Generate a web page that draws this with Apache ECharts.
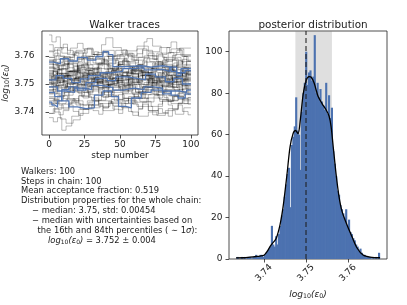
<!DOCTYPE html>
<html><head><meta charset="utf-8">
<script src="https://cdn.jsdelivr.net/npm/echarts@6/dist/echarts.min.js"></script>
<style>html,body{margin:0;padding:0;background:#fff}#c{width:407px;height:305px}</style>
</head><body><div id="c"></div>
<script>
// ---------- DATA ----------
const traceXTicks = [0, 25, 50, 75, 100];
const traceYTicks = [3.74, 3.75, 3.76];
const histXTicks = [3.74, 3.75, 3.76];
const histYTicks = [0, 20, 40, 60, 80, 100];

// gray walker traces: [step, value] change points
const grayTraces = [
[[0,3.7520],[4,3.7535],[9,3.7510],[15,3.7548],[22,3.7530],[30,3.7505],[38,3.7522],[47,3.7540],[55,3.7515],[63,3.7498],[71,3.7525],[80,3.7550],[88,3.7530],[95,3.7512],[100,3.7512]],
[[0,3.7560],[3,3.7588],[8,3.7570],[14,3.7545],[20,3.7565],[27,3.7590],[33,3.7572],[41,3.7555],[49,3.7580],[57,3.7560],[66,3.7540],[74,3.7568],[82,3.7585],[90,3.7560],[97,3.7545],[100,3.7545]],
[[0,3.7480],[5,3.7465],[11,3.7490],[18,3.7472],[24,3.7500],[31,3.7485],[39,3.7462],[46,3.7478],[54,3.7495],[61,3.7470],[69,3.7488],[77,3.7475],[85,3.7458],[92,3.7482],[100,3.7482]],
[[0,3.7675],[2,3.7650],[5,3.7668],[8,3.7630],[13,3.7605],[19,3.7620],[26,3.7598],[34,3.7612],[42,3.7590],[50,3.7605],[58,3.7585],[67,3.7600],[76,3.7578],[84,3.7595],[93,3.7580],[100,3.7580]],
[[0,3.7380],[3,3.7365],[6,3.7380],[9,3.7335],[12,3.7350],[16,3.7385],[21,3.7410],[28,3.7425],[35,3.7440],[44,3.7430],[52,3.7448],[60,3.7435],[69,3.7450],[78,3.7438],[87,3.7455],[95,3.7445],[100,3.7445]],
[[0,3.7500],[6,3.7525],[12,3.7540],[19,3.7515],[25,3.7495],[32,3.7520],[40,3.7545],[48,3.7528],[56,3.7505],[64,3.7530],[72,3.7515],[79,3.7495],[86,3.7520],[94,3.7538],[100,3.7538]],
[[0,3.7455],[4,3.7440],[10,3.7460],[17,3.7478],[23,3.7455],[30,3.7442],[37,3.7470],[45,3.7490],[52,3.7465],[60,3.7450],[68,3.7475],[76,3.7460],[83,3.7440],[91,3.7468],[100,3.7468]],
[[0,3.7580],[5,3.7600],[11,3.7585],[18,3.7610],[25,3.7625],[31,3.7605],[37,3.7640],[40,3.7665],[45,3.7630],[51,3.7610],[59,3.7595],[66,3.7620],[73,3.7600],[81,3.7588],[89,3.7605],[100,3.7605]],
[[0,3.7535],[3,3.7550],[9,3.7530],[16,3.7512],[22,3.7535],[29,3.7555],[36,3.7538],[43,3.7518],[51,3.7530],[58,3.7552],[65,3.7540],[73,3.7525],[81,3.7545],[88,3.7560],[96,3.7540],[100,3.7540]],
[[0,3.7490],[7,3.7505],[13,3.7485],[20,3.7470],[27,3.7492],[35,3.7508],[42,3.7488],[50,3.7475],[57,3.7500],[65,3.7515],[72,3.7495],[80,3.7480],[87,3.7498],[94,3.7510],[100,3.7510]],
[[0,3.7595],[4,3.7575],[10,3.7595],[17,3.7615],[24,3.7590],[31,3.7575],[39,3.7598],[47,3.7620],[55,3.7600],[62,3.7625],[67,3.7650],[69,3.7662],[73,3.7635],[79,3.7610],[86,3.7625],[93,3.7600],[100,3.7600]],
[[0,3.7450],[5,3.7430],[12,3.7445],[19,3.7425],[27,3.7440],[35,3.7420],[43,3.7435],[51,3.7415],[58,3.7400],[63,3.7385],[70,3.7400],[76,3.7388],[82,3.7405],[89,3.7392],[95,3.7415],[100,3.7415]],
[[0,3.7545],[6,3.7525],[13,3.7545],[21,3.7560],[28,3.7540],[36,3.7525],[44,3.7548],[52,3.7565],[60,3.7545],[68,3.7528],[75,3.7550],[83,3.7535],[90,3.7518],[97,3.7535],[100,3.7535]],
[[0,3.7510],[3,3.7492],[9,3.7470],[15,3.7490],[23,3.7505],[30,3.7480],[38,3.7498],[46,3.7512],[53,3.7490],[61,3.7472],[68,3.7495],[76,3.7508],[84,3.7488],[91,3.7500],[100,3.7500]],
[[0,3.7570],[7,3.7555],[14,3.7575],[21,3.7595],[29,3.7570],[37,3.7585],[45,3.7600],[53,3.7580],[61,3.7565],[69,3.7590],[77,3.7605],[83,3.7630],[86,3.7650],[90,3.7625],[95,3.7600],[100,3.7600]],
[[0,3.7420],[4,3.7400],[8,3.7375],[12,3.7360],[17,3.7372],[22,3.7395],[28,3.7415],[36,3.7430],[44,3.7445],[53,3.7430],[61,3.7448],[70,3.7462],[78,3.7445],[86,3.7430],[94,3.7450],[100,3.7450]],
[[0,3.7525],[5,3.7510],[11,3.7528],[18,3.7545],[25,3.7522],[33,3.7505],[41,3.7520],[48,3.7505],[56,3.7525],[63,3.7540],[71,3.7520],[78,3.7505],[86,3.7525],[93,3.7548],[100,3.7548]],
[[0,3.7465],[6,3.7488],[13,3.7505],[20,3.7485],[28,3.7462],[35,3.7485],[43,3.7502],[50,3.7485],[58,3.7468],[66,3.7490],[74,3.7472],[82,3.7490],[90,3.7508],[96,3.7485],[100,3.7485]],
[[0,3.7615],[4,3.7630],[9,3.7610],[15,3.7628],[20,3.7645],[24,3.7625],[30,3.7605],[38,3.7620],[46,3.7600],[54,3.7618],[62,3.7635],[70,3.7615],[78,3.7630],[85,3.7612],[92,3.7628],[100,3.7628]],
[[0,3.7555],[5,3.7538],[12,3.7518],[19,3.7540],[26,3.7555],[34,3.7535],[41,3.7552],[49,3.7570],[57,3.7548],[65,3.7530],[72,3.7555],[80,3.7570],[87,3.7550],[94,3.7532],[100,3.7532]],
[[0,3.7440],[6,3.7458],[13,3.7440],[21,3.7458],[29,3.7475],[37,3.7455],[44,3.7470],[52,3.7450],[60,3.7465],[67,3.7480],[74,3.7462],[81,3.7478],[89,3.7458],[96,3.7472],[100,3.7472]],
[[0,3.7500],[4,3.7520],[11,3.7500],[18,3.7520],[26,3.7538],[33,3.7515],[40,3.7498],[48,3.7518],[55,3.7538],[63,3.7515],[70,3.7500],[78,3.7520],[85,3.7505],[93,3.7525],[100,3.7525]],
[[0,3.7430],[6,3.7415],[14,3.7432],[22,3.7410],[30,3.7425],[38,3.7405],[46,3.7420],[54,3.7440],[62,3.7420],[70,3.7405],[77,3.7395],[84,3.7412],[91,3.7430],[100,3.7430]],
[[0,3.7585],[5,3.7565],[12,3.7545],[20,3.7568],[28,3.7552],[35,3.7570],[43,3.7555],[51,3.7540],[59,3.7562],[67,3.7578],[75,3.7558],[82,3.7542],[90,3.7565],[97,3.7580],[100,3.7580]],
[[0,3.7515],[7,3.7530],[14,3.7515],[21,3.7498],[28,3.7518],[36,3.7535],[43,3.7512],[51,3.7495],[59,3.7515],[66,3.7532],[74,3.7512],[82,3.7530],[89,3.7515],[96,3.7495],[100,3.7495]],
[[0,3.7640],[3,3.7620],[8,3.7598],[15,3.7580],[23,3.7600],[31,3.7588],[39,3.7572],[47,3.7590],[55,3.7575],[63,3.7595],[71,3.7580],[79,3.7565],[87,3.7585],[94,3.7570],[100,3.7570]],
[[0,3.7475],[5,3.7495],[12,3.7478],[19,3.7495],[26,3.7515],[34,3.7495],[42,3.7478],[49,3.7498],[57,3.7482],[64,3.7462],[72,3.7482],[80,3.7500],[88,3.7480],[95,3.7462],[100,3.7462]],
[[0,3.7532],[6,3.7552],[13,3.7572],[20,3.7550],[27,3.7535],[35,3.7555],[42,3.7575],[50,3.7555],[58,3.7538],[65,3.7558],[73,3.7575],[81,3.7558],[88,3.7540],[95,3.7558],[100,3.7558]],
[[0,3.7395],[4,3.7410],[9,3.7428],[16,3.7440],[24,3.7425],[32,3.7442],[40,3.7458],[48,3.7440],[56,3.7455],[64,3.7438],[72,3.7420],[80,3.7440],[88,3.7455],[95,3.7440],[100,3.7440]],
[[0,3.7505],[5,3.7485],[12,3.7502],[19,3.7525],[27,3.7505],[34,3.7488],[42,3.7508],[49,3.7528],[57,3.7508],[64,3.7488],[72,3.7505],[79,3.7525],[87,3.7508],[94,3.7490],[100,3.7490]],
[[0,3.7512],[2,3.7528],[5,3.7505],[8,3.7520],[11,3.7538],[14,3.7515],[17,3.7502],[21,3.7525],[24,3.7540],[27,3.7518],[31,3.7508],[34,3.7530],[38,3.7512],[41,3.7498],[45,3.7522],[48,3.7535],[52,3.7515],[56,3.7502],[59,3.7528],[63,3.7545],[66,3.7520],[70,3.7505],[74,3.7525],[77,3.7540],[81,3.7518],[85,3.7500],[88,3.7522],[92,3.7538],[96,3.7515],[100,3.7515]],
[[0,3.7548],[3,3.7530],[6,3.7552],[9,3.7568],[13,3.7545],[16,3.7532],[20,3.7555],[23,3.7570],[27,3.7548],[30,3.7535],[34,3.7558],[37,3.7542],[41,3.7528],[44,3.7550],[48,3.7565],[51,3.7545],[55,3.7530],[58,3.7552],[62,3.7568],[65,3.7548],[69,3.7532],[72,3.7555],[76,3.7540],[79,3.7525],[83,3.7548],[86,3.7562],[90,3.7540],[94,3.7528],[97,3.7550],[100,3.7550]],
[[0,3.7488],[3,3.7472],[6,3.7495],[10,3.7510],[13,3.7490],[17,3.7475],[20,3.7498],[24,3.7482],[27,3.7468],[31,3.7492],[34,3.7508],[38,3.7488],[41,3.7472],[45,3.7495],[48,3.7512],[52,3.7490],[55,3.7475],[59,3.7498],[62,3.7482],[66,3.7465],[69,3.7488],[73,3.7505],[76,3.7485],[80,3.7470],[83,3.7492],[87,3.7510],[90,3.7488],[94,3.7472],[97,3.7495],[100,3.7495]],
[[0,3.7530],[2,3.7515],[5,3.7538],[9,3.7555],[12,3.7532],[15,3.7518],[19,3.7540],[22,3.7558],[26,3.7535],[29,3.7520],[33,3.7542],[36,3.7528],[40,3.7512],[43,3.7535],[47,3.7552],[50,3.7530],[54,3.7515],[57,3.7538],[61,3.7555],[64,3.7532],[68,3.7518],[71,3.7540],[75,3.7525],[78,3.7510],[82,3.7532],[85,3.7550],[89,3.7528],[93,3.7512],[96,3.7535],[100,3.7535]],
[[0,3.7465],[3,3.7482],[7,3.7460],[10,3.7448],[14,3.7470],[17,3.7488],[21,3.7465],[24,3.7450],[28,3.7472],[31,3.7490],[35,3.7468],[38,3.7452],[42,3.7475],[45,3.7460],[49,3.7445],[52,3.7468],[56,3.7485],[59,3.7462],[63,3.7448],[66,3.7470],[70,3.7488],[73,3.7465],[77,3.7450],[80,3.7472],[84,3.7458],[87,3.7442],[91,3.7465],[94,3.7482],[98,3.7462],[100,3.7462]],
[[0,3.7572],[3,3.7555],[6,3.7578],[10,3.7595],[13,3.7570],[17,3.7552],[20,3.7575],[24,3.7590],[27,3.7568],[31,3.7550],[34,3.7572],[38,3.7588],[41,3.7565],[45,3.7548],[48,3.7570],[52,3.7585],[55,3.7562],[59,3.7545],[62,3.7568],[66,3.7582],[69,3.7560],[73,3.7545],[76,3.7568],[80,3.7585],[83,3.7562],[87,3.7548],[90,3.7570],[94,3.7588],[97,3.7565],[100,3.7565]],
[[0,3.7505],[2,3.7490],[5,3.7512],[8,3.7498],[12,3.7482],[15,3.7505],[18,3.7520],[22,3.7500],[25,3.7485],[29,3.7508],[32,3.7522],[36,3.7502],[39,3.7488],[43,3.7510],[46,3.7495],[50,3.7480],[53,3.7502],[57,3.7518],[60,3.7498],[64,3.7482],[67,3.7505],[71,3.7520],[74,3.7500],[78,3.7485],[81,3.7508],[85,3.7492],[88,3.7478],[92,3.7500],[95,3.7518],[100,3.7518]],
[[0,3.7540],[3,3.7560],[7,3.7538],[10,3.7522],[14,3.7545],[17,3.7562],[21,3.7540],[24,3.7525],[28,3.7548],[31,3.7532],[35,3.7515],[38,3.7538],[42,3.7555],[45,3.7532],[49,3.7518],[52,3.7540],[56,3.7558],[59,3.7535],[63,3.7520],[66,3.7542],[70,3.7528],[73,3.7512],[77,3.7535],[80,3.7552],[84,3.7530],[87,3.7515],[91,3.7538],[94,3.7555],[98,3.7532],[100,3.7532]],
[[0,3.7448],[4,3.7432],[7,3.7455],[11,3.7470],[14,3.7448],[18,3.7435],[21,3.7458],[25,3.7475],[28,3.7452],[32,3.7438],[35,3.7460],[39,3.7478],[42,3.7455],[46,3.7440],[49,3.7462],[53,3.7448],[56,3.7432],[60,3.7455],[63,3.7472],[67,3.7450],[70,3.7436],[74,3.7458],[77,3.7475],[81,3.7452],[84,3.7438],[88,3.7460],[91,3.7445],[95,3.7430],[98,3.7452],[100,3.7452]],
[[0,3.7525],[3,3.7545],[6,3.7522],[10,3.7508],[13,3.7530],[17,3.7548],[20,3.7525],[24,3.7510],[27,3.7532],[31,3.7518],[34,3.7502],[38,3.7525],[41,3.7542],[45,3.7520],[48,3.7505],[52,3.7528],[55,3.7545],[59,3.7522],[62,3.7508],[66,3.7530],[69,3.7515],[73,3.7500],[76,3.7522],[80,3.7540],[83,3.7518],[87,3.7505],[90,3.7528],[94,3.7545],[97,3.7522],[100,3.7522]],
[[0,3.7595],[4,3.7610],[7,3.7588],[11,3.7572],[14,3.7595],[18,3.7612],[21,3.7590],[25,3.7575],[28,3.7598],[32,3.7615],[35,3.7592],[39,3.7578],[42,3.7600],[46,3.7585],[49,3.7570],[53,3.7592],[56,3.7608],[60,3.7585],[63,3.7570],[67,3.7592],[70,3.7610],[74,3.7588],[77,3.7572],[81,3.7595],[84,3.7612],[88,3.7590],[91,3.7575],[95,3.7598],[98,3.7582],[100,3.7582]],
[[0,3.7428],[3,3.7445],[7,3.7425],[10,3.7410],[14,3.7432],[17,3.7448],[21,3.7428],[24,3.7412],[28,3.7435],[31,3.7450],[35,3.7430],[38,3.7415],[42,3.7438],[45,3.7422],[49,3.7408],[52,3.7430],[56,3.7448],[59,3.7428],[63,3.7412],[66,3.7435],[70,3.7420],[73,3.7405],[77,3.7428],[80,3.7445],[84,3.7425],[87,3.7410],[91,3.7432],[94,3.7448],[98,3.7428],[100,3.7428]],
[[0,3.7515],[2,3.7500],[6,3.7522],[9,3.7538],[13,3.7515],[16,3.7500],[20,3.7522],[23,3.7508],[27,3.7492],[30,3.7515],[34,3.7532],[37,3.7510],[41,3.7495],[44,3.7518],[48,3.7535],[51,3.7512],[55,3.7498],[58,3.7520],[62,3.7505],[65,3.7490],[69,3.7512],[72,3.7530],[76,3.7508],[79,3.7492],[83,3.7515],[86,3.7532],[90,3.7510],[93,3.7495],[97,3.7518],[100,3.7518]],
[[0,3.7560],[4,3.7542],[7,3.7565],[11,3.7580],[14,3.7558],[18,3.7542],[21,3.7565],[25,3.7550],[28,3.7535],[32,3.7558],[35,3.7575],[39,3.7552],[42,3.7538],[46,3.7560],[49,3.7578],[53,3.7555],[56,3.7540],[60,3.7562],[63,3.7548],[67,3.7532],[70,3.7555],[74,3.7572],[77,3.7550],[81,3.7535],[84,3.7558],[88,3.7575],[91,3.7552],[95,3.7538],[98,3.7560],[100,3.7560]],
[[0,3.7478],[3,3.7495],[7,3.7515],[10,3.7492],[14,3.7478],[17,3.7500],[21,3.7485],[24,3.7470],[28,3.7492],[31,3.7510],[35,3.7488],[38,3.7472],[42,3.7495],[45,3.7512],[49,3.7490],[52,3.7475],[56,3.7498],[59,3.7482],[63,3.7468],[66,3.7490],[70,3.7508],[73,3.7485],[77,3.7470],[80,3.7492],[84,3.7510],[87,3.7488],[91,3.7472],[94,3.7495],[98,3.7480],[100,3.7480]],
[[0,3.7538],[3,3.7522],[7,3.7505],[10,3.7528],[14,3.7545],[17,3.7522],[21,3.7508],[24,3.7530],[28,3.7548],[31,3.7525],[35,3.7510],[38,3.7532],[42,3.7518],[45,3.7502],[49,3.7525],[52,3.7542],[56,3.7520],[59,3.7505],[63,3.7528],[66,3.7545],[70,3.7522],[73,3.7508],[77,3.7530],[80,3.7515],[84,3.7500],[87,3.7522],[91,3.7540],[94,3.7518],[98,3.7502],[100,3.7502]],
[[0,3.7618],[3,3.7600],[6,3.7625],[10,3.7642],[13,3.7620],[17,3.7602],[20,3.7588],[24,3.7610],[27,3.7628],[31,3.7605],[34,3.7590],[38,3.7612],[41,3.7598],[45,3.7582],[48,3.7605],[52,3.7622],[55,3.7600],[59,3.7585],[62,3.7608],[66,3.7625],[69,3.7602],[73,3.7588],[76,3.7610],[80,3.7595],[83,3.7580],[87,3.7602],[90,3.7620],[94,3.7598],[97,3.7585],[100,3.7585]],
[[0,3.7395],[3,3.7412],[7,3.7390],[10,3.7405],[14,3.7425],[17,3.7402],[21,3.7388],[24,3.7410],[28,3.7428],[31,3.7405],[35,3.7392],[38,3.7415],[42,3.7432],[45,3.7410],[49,3.7395],[52,3.7418],[56,3.7402],[59,3.7388],[63,3.7410],[66,3.7428],[70,3.7405],[73,3.7390],[77,3.7412],[80,3.7398],[84,3.7385],[87,3.7408],[91,3.7425],[94,3.7402],[98,3.7390],[100,3.7390]],
[[0,3.7500],[3,3.7518],[7,3.7535],[10,3.7512],[14,3.7498],[17,3.7520],[21,3.7538],[24,3.7515],[28,3.7500],[31,3.7522],[35,3.7508],[38,3.7492],[42,3.7515],[45,3.7532],[49,3.7510],[52,3.7495],[56,3.7518],[59,3.7535],[63,3.7512],[66,3.7498],[70,3.7520],[73,3.7505],[77,3.7490],[80,3.7512],[84,3.7530],[87,3.7508],[91,3.7492],[94,3.7515],[98,3.7532],[100,3.7532]],
[[0,3.7585],[3,3.7568],[7,3.7550],[10,3.7572],[14,3.7588],[17,3.7565],[21,3.7550],[24,3.7572],[28,3.7558],[31,3.7542],[35,3.7565],[38,3.7582],[42,3.7560],[45,3.7545],[49,3.7568],[52,3.7585],[56,3.7562],[59,3.7548],[63,3.7570],[66,3.7555],[70,3.7540],[73,3.7562],[77,3.7580],[80,3.7558],[84,3.7542],[87,3.7565],[91,3.7582],[94,3.7560],[98,3.7545],[100,3.7545]]
];

// highlighted (blue) walker traces
const blueTraces = [
[[0,3.7578],[3,3.7572],[8,3.7590],[14,3.7582],[20,3.7595],[27,3.7585],[33,3.7598],[38,3.7615],[42,3.7605],[45,3.7562],[55,3.7565],[65,3.7560],[72,3.7565],[80,3.7560],[86,3.7545],[90,3.7530],[93,3.7555],[100,3.7555]],
[[0,3.7435],[2,3.7425],[4,3.7418],[6,3.7440],[9,3.7480],[14,3.7490],[20,3.7478],[26,3.7505],[33,3.7520],[41,3.7512],[47,3.7525],[55,3.7520],[62,3.7515],[68,3.7535],[75,3.7525],[82,3.7508],[88,3.7520],[94,3.7500],[100,3.7500]],
[[0,3.7470],[4,3.7455],[9,3.7440],[14,3.7418],[20,3.7412],[26,3.7415],[32,3.7460],[38,3.7475],[44,3.7455],[49,3.7420],[54,3.7415],[58,3.7450],[65,3.7470],[72,3.7478],[80,3.7465],[86,3.7475],[92,3.7470],[97,3.7478],[100,3.7478]],
[[0,3.7515],[5,3.7530],[10,3.7520],[16,3.7505],[22,3.7518],[28,3.7530],[36,3.7540],[44,3.7545],[52,3.7555],[60,3.7558],[67,3.7550],[74,3.7552],[80,3.7545],[85,3.7560],[90,3.7540],[96,3.7548],[100,3.7548]],
[[0,3.7490],[6,3.7475],[12,3.7470],[18,3.7485],[24,3.7480],[30,3.7495],[37,3.7488],[45,3.7478],[52,3.7485],[60,3.7480],[67,3.7490],[74,3.7485],[80,3.7475],[86,3.7460],[91,3.7450],[96,3.7465],[100,3.7465]]
];

// histogram: first bin left edge, bin width, counts
const histStart = 3.7335;
const histBinWidth = 0.00034;
const histCounts = [1,0,0,1,0,1,0,1,1,1, 0,1,1,2,1,1,2,2,1,2,
3,4,5,6,16,7,6,11,7,12, 16,21,24,30,36,41,44,25,55,59,
64,78,62,60,43,71,80,85,100,84, 90,91,86,88,108,80,85,78,82,76,
74,72,85,70,79,68,73,52,46,40, 33,31,26,24,22,20,24,16,19,13,
12,10,9,7,6,4,5,3,2,2, 1,1,1,1,0,1,0,1,0,3];

// KDE curve points
const kdeX = [3.73337,3.73527,3.7367,3.73813,3.73908,3.74003,3.74075,3.7417,3.74289,3.74384,3.74456,3.74551,3.74622,3.74694,3.74753,3.74813,3.74872,3.74932,3.75003,3.75075,3.75122,3.75194,3.75289,3.75384,3.7548,3.75551,3.75599,3.75646,3.75718,3.75789,3.7586,3.75979,3.76098,3.76218,3.7636,3.76527,3.76765];
const kdeY = [0.5,0.6,0.9,1.2,1.4,1.8,3.5,6.7,9.8,16.5,25,41,54,60.5,62,60.5,68,79,86,88,87.8,85,78.5,75,72,69,64,55,41,30,23,16.4,10.7,5.3,1.9,0.9,0.6];

const medianValue = 3.752;
const band = [3.7475, 3.7562];

const infoLines = [
  'Walkers: 100',
  'Steps in chain: 100',
  'Mean acceptance fraction: 0.519',
  'Distribution properties for the whole chain:',
  '− median: 3.75, std: 0.00454',
  '− median with uncertainties based on',
  'the 16th and 84th percentiles ( {n|∼} 1{i|σ}):',
  '{i|log}{s|10}{i|(ε}{s|0}{i|)} = 3.752 ± 0.004'
];

// ---------- CHART ----------
const FF = 'DejaVu Sans';
const TXT = '#1a1a1a';
const TXT_SIZE = 8.4;
const chart = echarts.init(document.getElementById('c'), null, {renderer: 'canvas'});

const nameRich = {
  i: {fontFamily: FF, fontSize: 9, fontStyle: 'italic', color: TXT},
  s: {fontFamily: FF, fontSize: 6.3, color: TXT, padding: [4, 0, 0, 0]}
};

const series = [];
grayTraces.forEach(t => series.push({
  type: 'line', xAxisIndex: 0, yAxisIndex: 0, data: t, step: 'end',
  showSymbol: false, silent: true, z: 2,
  lineStyle: {color: '#000', opacity: 0.27, width: 1}
}));
blueTraces.forEach(t => series.push({
  type: 'line', xAxisIndex: 0, yAxisIndex: 0, data: t, step: 'end',
  showSymbol: false, silent: true, z: 3,
  lineStyle: {color: '#4c72b0', opacity: 0.95, width: 1.3}
}));

series.push({
  type: 'custom', xAxisIndex: 1, yAxisIndex: 1, z: 2, silent: true,
  data: histCounts.map((c, i) => [histStart + i * histBinWidth, histStart + (i + 1) * histBinWidth, c]),
  encode: {x: [0, 1], y: 2},
  renderItem: function (params, api) {
    const p0 = api.coord([api.value(0), api.value(2)]);
    const p1 = api.coord([api.value(1), 0]);
    return {type: 'rect', shape: {x: p0[0], y: p0[1], width: p1[0] - p0[0] + 0.7, height: p1[1] - p0[1]},
      style: {fill: '#4c72b0'}};
  }
});

series.push({
  type: 'line', xAxisIndex: 1, yAxisIndex: 1, z: 4, silent: true,
  data: kdeX.map((x, i) => [x, kdeY[i]]), smooth: 0.3, showSymbol: false,
  lineStyle: {color: '#000', width: 1.3},
  markArea: {silent: true, itemStyle: {color: 'rgba(128,128,128,0.25)'},
    data: [[{xAxis: band[0]}, {xAxis: band[1]}]]},
  markLine: {silent: true, symbol: 'none', label: {show: false},
    lineStyle: {color: 'rgba(30,30,30,0.7)', type: [5, 3], width: 1.5},
    data: [{xAxis: medianValue}]}
});

const tickStyle = {show: true, inside: false, length: 3.5, lineStyle: {color: '#222', width: 0.8}};
const labelStyle = {fontFamily: FF, fontSize: 9, color: TXT};

chart.setOption({
  animation: false,
  backgroundColor: '#fff',
  title: [
    {text: 'Walker traces', left: 119.5, top: 15, textAlign: 'center',
      textStyle: {fontFamily: FF, fontSize: 10.4, fontWeight: 'normal', color: TXT}},
    {text: 'posterior distribution', left: 308, top: 15, textAlign: 'center',
      textStyle: {fontFamily: FF, fontSize: 10.4, fontWeight: 'normal', color: TXT}}
  ],
  grid: [
    {left: 41, top: 31, width: 157, height: 104, show: true, borderColor: '#222', borderWidth: 0.8},
    {left: 229, top: 31, width: 158, height: 228, show: true, borderColor: '#222', borderWidth: 0.8}
  ],
  xAxis: [
    {type: 'value', gridIndex: 0, min: -5, max: 105,
      axisLine: {show: false}, splitLine: {show: false},
      axisTick: Object.assign({customValues: traceXTicks}, tickStyle),
      axisLabel: Object.assign({customValues: traceXTicks, margin: 5}, labelStyle),
      name: 'step number', nameLocation: 'middle', nameGap: 16,
      nameTextStyle: {fontFamily: FF, fontSize: 9, color: TXT}},
    {type: 'value', gridIndex: 1, min: 3.7317, max: 3.7693,
      axisLine: {show: false}, splitLine: {show: false},
      axisTick: Object.assign({customValues: histXTicks}, tickStyle),
      axisLabel: Object.assign({customValues: histXTicks, rotate: 45, margin: 14, align: 'center', verticalAlign: 'middle',
        formatter: v => v.toFixed(2)}, labelStyle),
      name: '{i|log}{s|10}{i|(ε}{s|0}{i|)}', nameLocation: 'middle', nameGap: 22,
      nameTextStyle: {fontFamily: FF, fontSize: 9, color: TXT, rich: nameRich}}
  ],
  yAxis: [
    {type: 'value', gridIndex: 0, min: 3.7318, max: 3.7689,
      axisLine: {show: false}, splitLine: {show: false},
      axisTick: Object.assign({customValues: traceYTicks}, tickStyle),
      axisLabel: Object.assign({customValues: traceYTicks, margin: 7.5, formatter: v => v.toFixed(2)}, labelStyle),
      name: '{i|log}{s|10}{i|(ε}{s|0}{i|)}', nameLocation: 'middle', nameGap: 21, nameRotate: 90,
      nameTextStyle: {fontFamily: FF, fontSize: 9, color: TXT, rich: nameRich}},
    {type: 'value', gridIndex: 1, min: 0, max: 110,
      axisLine: {show: false}, splitLine: {show: false},
      axisTick: Object.assign({customValues: histYTicks}, tickStyle),
      axisLabel: Object.assign({customValues: histYTicks, margin: 6.5}, labelStyle)}
  ],
  graphic: infoLines.map((t, i) => ({
    type: 'text',
    x: [21, 21, 21, 21, 32, 32, 37.5, 48][i],
    y: [171.7, 181.5, 191.3, 201, 210.8, 220.6, 230.4, 240.5][i],
    silent: true,
    style: {text: t, fill: TXT, font: TXT_SIZE + 'px "DejaVu Sans"', align: 'left', verticalAlign: 'middle',
      rich: {
        i: {fontFamily: FF, fontSize: TXT_SIZE, fontStyle: 'italic', fill: TXT, color: TXT},
        n: {fontFamily: FF, fontSize: TXT_SIZE, fill: TXT, color: TXT},
        s: {fontFamily: FF, fontSize: 6, fill: TXT, color: TXT, padding: [3, 0, 0, 0]}
      }}
  })),
  series: series
});
</script>
</body></html>
